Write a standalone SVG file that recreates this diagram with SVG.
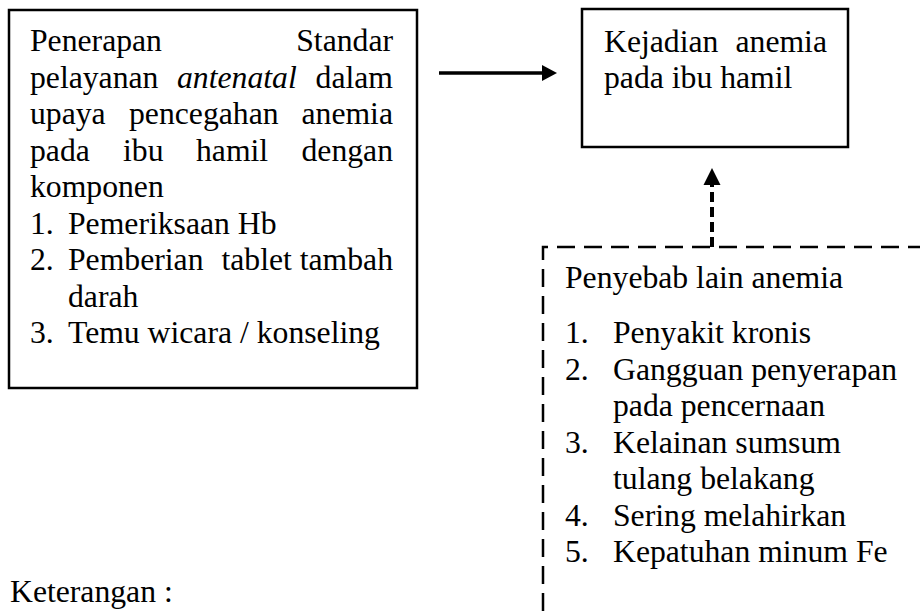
<svg xmlns="http://www.w3.org/2000/svg" width="920" height="611" viewBox="0 0 920 611">
<style>
text{font-family:"Liberation Serif","Times New Roman",serif;font-size:31.7px;fill:#000}
.e{text-anchor:end}
.box{fill:#fff;stroke:#000;stroke-width:2.5}
.dash{fill:none;stroke:#000;stroke-width:2.5;stroke-dasharray:18 9}
</style>
<rect width="920" height="611" fill="#fff"/>
<g id="node-penerapan">
<rect class="box" x="9" y="10" width="408" height="378"/>
<text x="30" y="51">Penerapan</text><text class="e" x="393" y="51">Standar</text>
<text x="30" y="87.5">pelayanan</text><text x="177" y="87.5" font-style="italic">antenatal</text><text class="e" x="393" y="87.5">dalam</text>
<text x="30" y="124">upaya</text><text x="129" y="124">pencegahan</text><text class="e" x="393" y="124">anemia</text>
<text x="30" y="160.5">pada</text><text x="123" y="160.5">ibu</text><text x="196" y="160.5">hamil</text><text class="e" x="393" y="160.5">dengan</text>
<text x="30" y="197">komponen</text>
<text x="30" y="233.5">1.</text><text x="68" y="233.5">Pemeriksaan Hb</text>
<text x="30" y="270">2.</text><text x="68" y="270">Pemberian</text><text class="e" x="393" y="270">tablet tambah</text>
<text x="68" y="306.5">darah</text>
<text x="30" y="343">3.</text><text x="68" y="343">Temu wicara / konseling</text>
</g>
<g id="node-kejadian">
<rect class="box" x="582" y="9" width="266" height="138"/>
<text x="604" y="52">Kejadian</text><text class="e" x="827" y="52">anemia</text>
<text x="604" y="88">pada ibu hamil</text>
</g>
<g id="node-penyebab">
<path class="dash" d="M543,611 V247 H920"/>
<text x="565" y="288">Penyebab lain anemia</text>
<text x="565" y="343">1.</text><text x="613" y="343">Penyakit kronis</text>
<text x="565" y="379.5">2.</text><text x="613" y="379.5">Gangguan penyerapan</text>
<text x="613" y="416">pada pencernaan</text>
<text x="565" y="452.5">3.</text><text x="613" y="452.5">Kelainan sumsum</text>
<text x="613" y="489">tulang belakang</text>
<text x="565" y="525.5">4.</text><text x="613" y="525.5">Sering melahirkan</text>
<text x="565" y="562">5.</text><text x="613" y="562">Kepatuhan minum Fe</text>
</g>
<g id="legend">
<text x="10" y="602">Keterangan :</text>
</g>
<g id="connectors">
<line x1="439" y1="73" x2="544" y2="73" stroke="#000" stroke-width="3.5"/>
<polygon points="557,73 542,65 542,81" fill="#000"/>
<line x1="712" y1="247" x2="712" y2="184" stroke="#000" stroke-width="4" stroke-dasharray="10 5"/>
<polygon points="712,168 703.5,185 720.5,185" fill="#000"/>
</g>
</svg>
